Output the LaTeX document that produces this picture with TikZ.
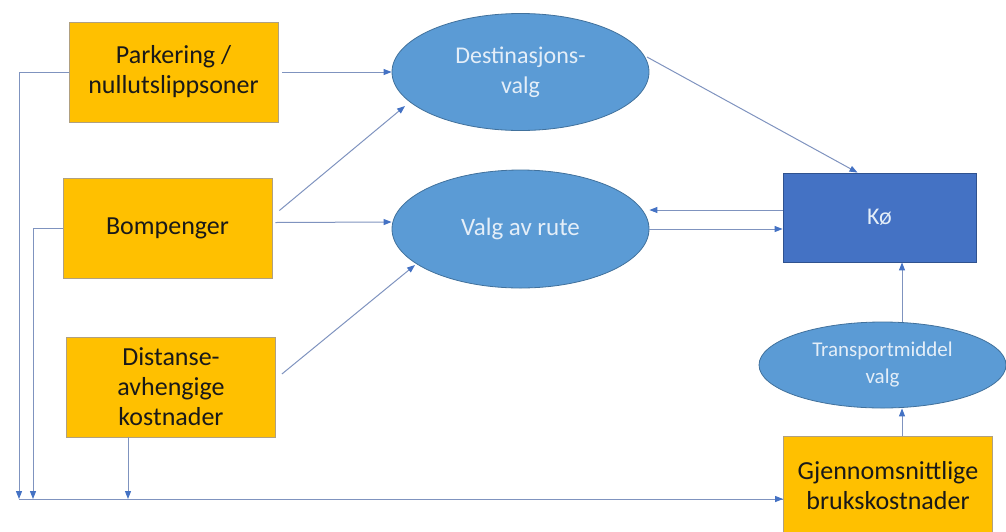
\documentclass[tikz,border=0pt]{standalone}
\usepackage{fontspec}
\setmainfont{Carlito}
\usetikzlibrary{shapes.geometric,arrows.meta}
\definecolor{boxfill}{HTML}{FFC000}
\definecolor{boxline}{HTML}{B0A080}
\definecolor{ellfill}{HTML}{5B9BD5}
\definecolor{ellline}{HTML}{41719C}
\definecolor{queuefill}{HTML}{4472C4}
\definecolor{queueline}{HTML}{2F528F}
\definecolor{conn}{HTML}{7F93BF}
\definecolor{tip}{HTML}{4472C4}
\definecolor{elltext}{HTML}{E4EEF8}
\tikzset{
  costbox/.style={draw=boxline, line width=0.8pt, fill=boxfill, rectangle,
    minimum width=209pt, minimum height=100pt, inner sep=0pt, align=center,
    font=\fontsize{26}{30}\selectfont, text=black!90},
  choice/.style={draw=ellline, line width=0.8pt, fill=ellfill, ellipse,
    inner sep=0pt, align=center, text=elltext},
  queue/.style={draw=queueline, line width=0.8pt, fill=queuefill, rectangle,
    minimum width=193pt, minimum height=89pt, inner sep=0pt,
    font=\fontsize{24}{28}\selectfont, text=elltext},
  link/.style={draw=conn, line width=1pt,
    -{Triangle[length=8pt,width=6pt,color=tip]}},
  plain/.style={draw=conn, line width=1pt}
}
\begin{document}
\begin{tikzpicture}[x=1pt,y=-1pt]
\useasboundingbox (0,0) rectangle (1006,531);
\begin{scope}
\clip (0,0) rectangle (1006,531);

% cost drivers
\node[costbox] (park) at (173.5,72) {Parkering /\\nullutslippsoner};
\node[costbox] (bom)  at (167.5,228.5) {Bompenger};
\node[costbox] (dist) at (171,387) {Distanse-\\avhengige\\kostnader};
\node[costbox] (gjen) at (888,486) {Gjennomsnittlige\\brukskostnader};

% choices
\node[choice, minimum width=257pt, minimum height=117pt,
      font=\fontsize{24}{30}\selectfont] (dest) at (520.5,72) {Destinasjons-\\valg};
\node[choice, minimum width=257pt, minimum height=118pt,
      font=\fontsize{25}{30}\selectfont] (rute) at (520.5,229) {Valg av rute};
\node[choice, minimum width=247pt, minimum height=86pt,
      font=\fontsize{21}{27}\selectfont] (tm) at (882.5,365) {Transportmiddel\\valg};

% queue
\node[queue] (ko) at (879.5,217.5) {Kø};

% collector line along the bottom
\coordinate (c1) at (19,499);
\coordinate (c2) at (33,499);
\coordinate (c3) at (128,499);

\draw[plain] (c1) -- (c1 -| gjen.west);
\draw[link] (c3) -- ([yshift=-13pt]gjen.west);

\draw[link] (park.west) -| (c1);
\draw[link] (bom.west) -| (c2);
\draw[link] (dist.south -| c3) -- (c3);

% drivers to choices
\draw[link] ([xshift=4pt]park.east) -- (dest.west);
\draw[link] ([xshift=7pt,yshift=18pt]bom.east) -- ([xshift=-115.5pt,yshift=-34pt]dest.center);
\draw[link] ([xshift=3pt,yshift=6pt]bom.east) -- (rute.west |- 0,222);
\draw[link] ([xshift=6pt,yshift=13pt]dist.east) -- ([xshift=-105.5pt,yshift=-36pt]rute.center);

% choices to queue
\draw[link] ([xshift=126.5pt,yshift=15pt]dest.center) -- ([xshift=-22pt]ko.north);
\draw[link] (ko.west |- 0,210) -- (rute.east |- 0,210);
\draw[link] (rute.east) -- (ko.west |- 0,229);
\draw[link] (tm.north -| 902,0) -- (ko.south -| 902,0);
\draw[link] (gjen.north -| 902,0) -- (tm.south -| 902,0);
\end{scope}
\end{tikzpicture}
\end{document}
